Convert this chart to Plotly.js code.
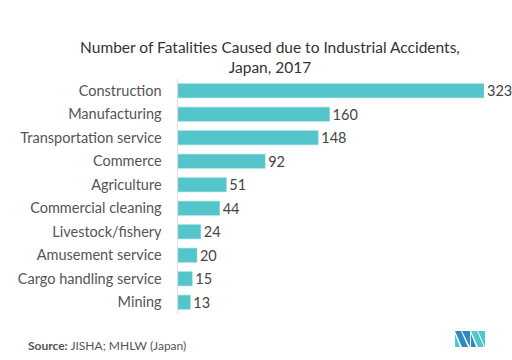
<!DOCTYPE html>
<html><head><meta charset="utf-8">
<script src="https://cdn.plot.ly/plotly-3.0.1.min.js"></script>
<style>html,body{margin:0;padding:0;background:#fff}#chart{width:512px;height:360px}</style>
</head><body><div id="chart"></div>
<script>
const categories = ["Construction","Manufacturing","Transportation service","Commerce","Agriculture","Commercial cleaning","Livestock/fishery","Amusement service","Cargo handling service","Mining"];
const fatalities = [323,160,148,92,51,44,24,20,15,13];

const L = 178, R = 484, T = 79, B = 314, W = 512, H = 360;
const px = x => (x - L) / (R - L);
const py = y => (B - y) / (B - T);

function poly(pts, color) {
  return {type:'path', xref:'paper', yref:'paper', fillcolor:color, line:{width:0},
    path: 'M' + pts.map(p => px(p[0]) + ',' + py(p[1])).join('L') + 'Z'};
}

const trace = {
  type:'bar', orientation:'h',
  y: categories, x: fatalities,
  marker:{color:'#53C5CB', line:{color:'#7DD3D7', width:0.5}},
  text: fatalities.map(String), textposition:'outside', cliponaxis:false,
  constraintext:'none',
  textfont:{family:'Lato, sans-serif', size:14.5, color:'#444'},
  hoverinfo:'none'
};

const layout = {
  width:W, height:H,
  margin:{l:L, r:W-R, t:T, b:H-B},
  paper_bgcolor:'#fff', plot_bgcolor:'#fff',
  bargap:0.4,
  showlegend:false,
  title:{text:'Number of Fatalities Caused due to Industrial Accidents,<br>Japan, 2017',
    font:{family:'Lato, sans-serif', size:15.5, color:'#333'}, xref:'container', x:270/W, xanchor:'center',
    yref:'container', y:(H-53)/H, yanchor:'middle'},
  xaxis:{range:[0,323], visible:false, showgrid:false, zeroline:false, fixedrange:true},
  yaxis:{autorange:'reversed', showline:true, linecolor:'#ddd', linewidth:1.5,
    ticks:'', ticklen:0, showgrid:false, ticklabelstandoff:12,
    tickfont:{family:'Lato, sans-serif', size:14.5, color:'#555'}},
  annotations:[{xref:'paper', yref:'paper', x:px(26), y:py(345), xanchor:'left', yanchor:'middle',
    showarrow:false, text:'<b>Source:</b> JISHA; MHLW (Japan)',
    font:{family:'Lato, sans-serif', size:12, color:'#555'}}],
  shapes:[
    poly([[455,331],[461,331],[468,347],[462,347]], '#2E8BC0'),
    poly([[455,334],[460,347],[455,347]], '#4FC8CB'),
    poly([[462,331],[470,331],[470,347]], '#2E8BC0'),
    poly([[471,331],[477,331],[484,347],[478,347]], '#4FC8CB'),
    poly([[478,331],[485,331],[485,347]], '#4FC8CB'),
    poly([[471,334],[476,347],[471,347]], '#2E8BC0')
  ]
};

Plotly.newPlot('chart',[trace],layout,{displayModeBar:false,staticPlot:true});
</script></body></html>
